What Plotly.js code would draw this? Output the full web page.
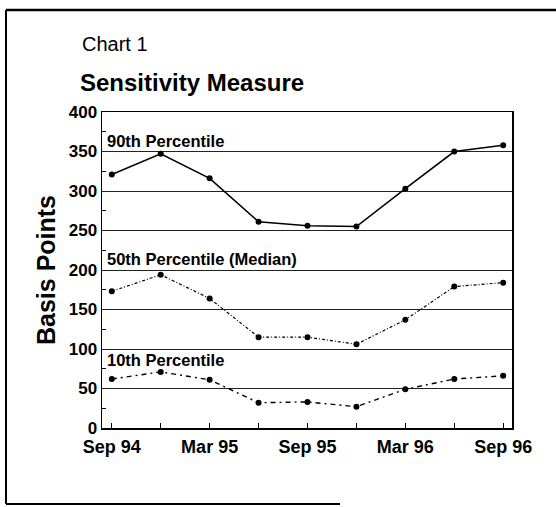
<!DOCTYPE html>
<html>
<head>
<meta charset="utf-8">
<script src="https://cdn.plot.ly/plotly-3.0.1.min.js"></script>
<style>
html,body{margin:0;padding:0;background:#fff;}
#chart{width:556px;height:507px;}
</style>
</head>
<body>
<div id="chart"></div>
<script>
// Quarterly observations, Sep 94 .. Sep 96
var quarters = ["Sep 94","Dec 94","Mar 95","Jun 95","Sep 95","Dec 95","Mar 96","Jun 96","Sep 96"];
var p90 = [321, 347, 316, 261, 256, 255, 303, 350, 358];
var p50 = [173, 194, 164, 115, 115, 106, 137, 179, 184];
var p10 = [62, 71, 61, 32, 33, 27, 49, 62, 66];
var seriesNames = ["90th Percentile", "50th Percentile (Median)", "10th Percentile"];
var tickLabels = ["Sep 94","","Mar 95","","Sep 95","","Mar 96","","Sep 96"];
var yTicks = [0,50,100,150,200,250,300,350,400];

var idx = quarters.map(function(_, i){ return i; });
var FONT = "Liberation Sans, Arial, sans-serif";

function trace(vals, name, dash, width){
  return {
    x: idx, y: vals, name: name, type: "scatter", mode: "lines+markers",
    line: {color: "#000", width: width, dash: dash},
    marker: {color: "#000", size: 6},
    hoverinfo: "skip"
  };
}

var data = [
  trace(p90, seriesNames[0], "solid", 1.6),
  trace(p50, seriesNames[1], "3px,2px,1px,2px", 1.2),
  trace(p10, seriesNames[2], "5px,4px,2px,4px", 1.4)
];

// paper-coordinate helpers for the frame (plot area 102..512 x, 112..428 y)
function px(v){ return (v - 102) / 410; }
function py(v){ return (428 - v) / 316; }

var layout = {
  width: 556, height: 507,
  margin: {l: 102, r: 44, t: 112, b: 79},
  paper_bgcolor: "#fff", plot_bgcolor: "#fff",
  showlegend: false,
  font: {family: FONT, color: "#000"},
  title: {
    text: "<b>Sensitivity Measure</b>",
    font: {family: FONT, size: 24, color: "#000"},
    xref: "container", x: 80/556, xanchor: "left",
    yref: "container", y: 1 - 83/507, yanchor: "middle"
  },
  xaxis: {
    range: [-0.2, 8.18],
    tickvals: idx, ticktext: tickLabels,
    ticks: "inside", ticklen: 5, tickwidth: 1, tickcolor: "#000",
    ticklabelstandoff: 2,
    showgrid: false, zeroline: false,
    showline: true, linecolor: "#000", linewidth: 1.5, mirror: true,
    tickfont: {family: FONT, size: 18, color: "#000", weight: "bold"},
    fixedrange: true
  },
  yaxis: {
    range: [0, 400],
    tickvals: yTicks,
    ticks: "", showgrid: true, gridcolor: "#222", gridwidth: 1,
    zeroline: false,
    showline: true, linecolor: "#000", linewidth: 1.5, mirror: true,
    minor: {tickvals: [25,75,125,175,225,275,325,375], ticks: "inside", ticklen: 4, tickcolor: "#000", showgrid: false},
    tickfont: {family: FONT, size: 17, color: "#000", weight: "bold"},
    title: {text: "<b>Basis Points</b>", font: {family: FONT, size: 25, color: "#000"}, standoff: 6},
    fixedrange: true
  },
  annotations: [
    {text: "Chart 1", xref: "paper", yref: "paper", x: px(80), y: py(44),
     xanchor: "left", yanchor: "middle", showarrow: false,
     font: {family: FONT, size: 20, color: "#000"}},
    {text: "<b>" + seriesNames[0] + "</b>", xref: "paper", yref: "y", x: px(105), y: 350,
     xanchor: "left", yanchor: "bottom", showarrow: false,
     font: {family: FONT, size: 16.5, color: "#000"}},
    {text: "<b>" + seriesNames[1] + "</b>", xref: "paper", yref: "y", x: px(105), y: 200,
     xanchor: "left", yanchor: "bottom", showarrow: false,
     font: {family: FONT, size: 16.5, color: "#000"}},
    {text: "<b>" + seriesNames[2] + "</b>", xref: "paper", yref: "y", x: px(105), y: 100,
     xanchor: "left", yanchor: "top", showarrow: false,
     font: {family: FONT, size: 16.5, color: "#000"}}
  ],
  shapes: [
    {type: "line", xref: "paper", yref: "paper", x0: px(6), x1: px(556), y0: py(10), y1: py(10), line: {color: "#000", width: 2.5}},
    {type: "line", xref: "paper", yref: "paper", x0: px(6), x1: px(6), y0: py(10), y1: py(504), line: {color: "#000", width: 2}},
    {type: "line", xref: "paper", yref: "paper", x0: px(6), x1: px(340), y0: py(504), y1: py(504), line: {color: "#000", width: 2}}
  ]
};

Plotly.newPlot("chart", data, layout, {staticPlot: true, displayModeBar: false});
</script>
</body>
</html>
